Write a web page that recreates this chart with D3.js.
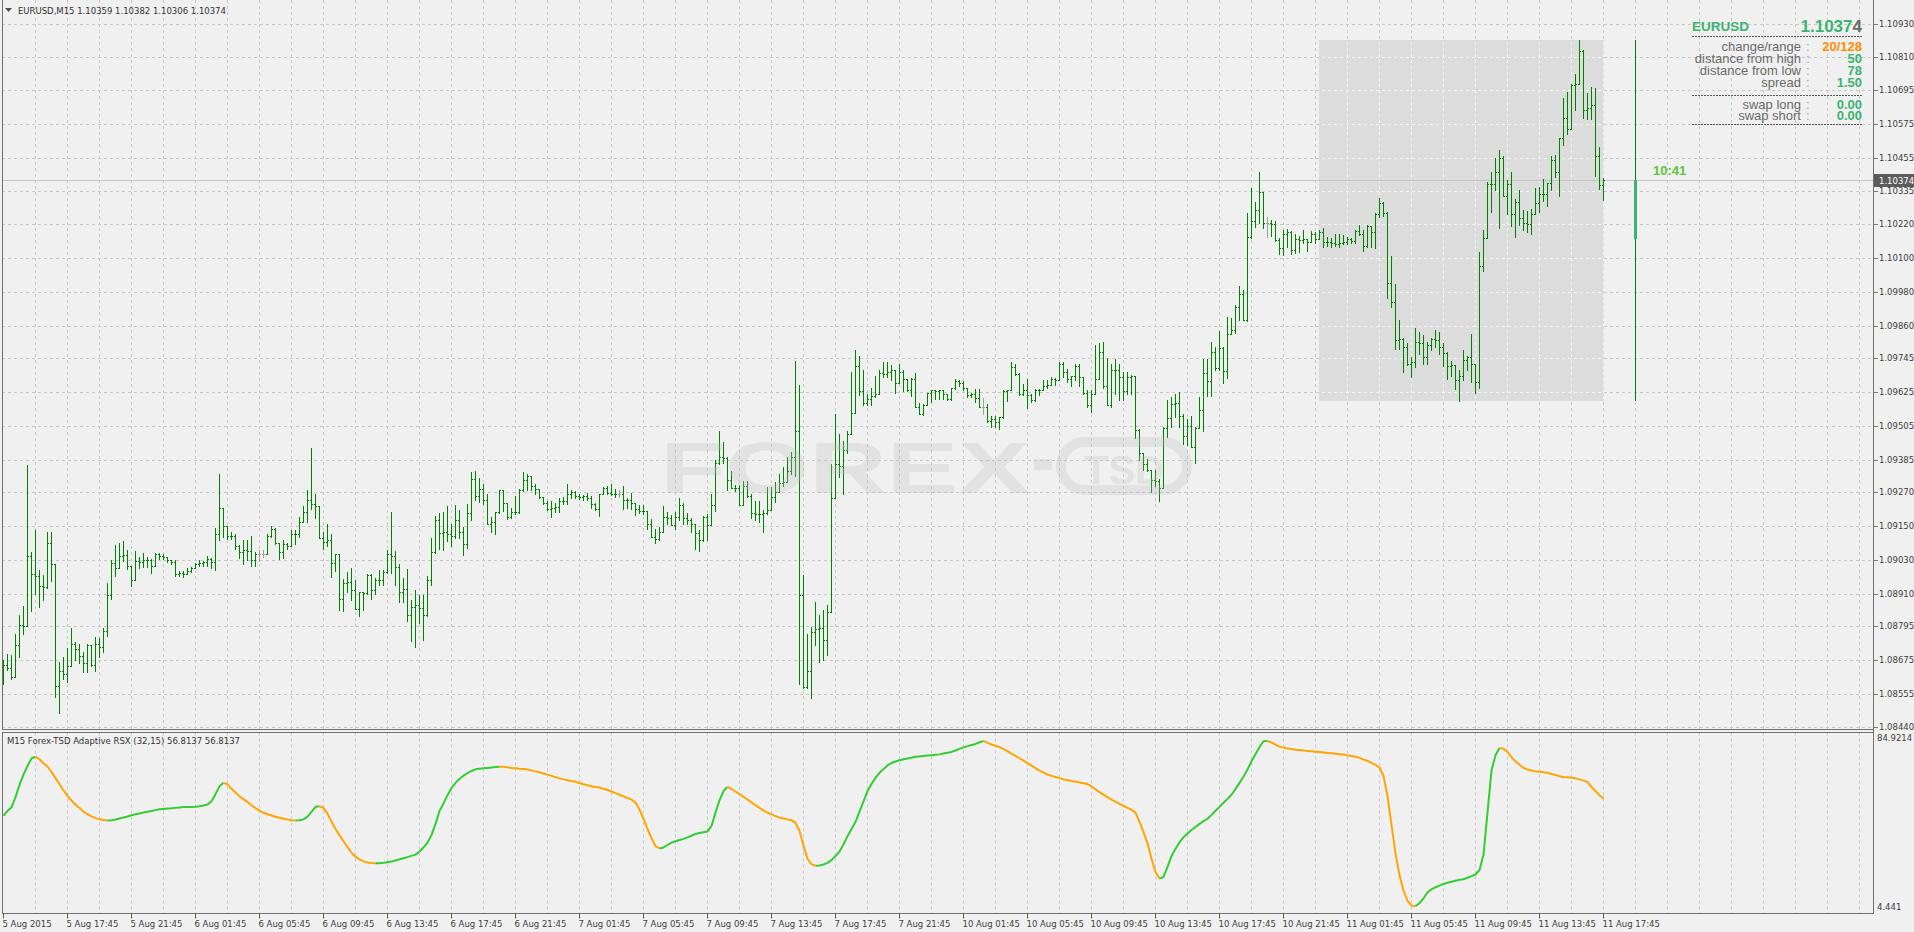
<!DOCTYPE html>
<html>
<head>
<meta charset="utf-8">
<title>EURUSD,M15</title>
<script src="https://cdn.jsdelivr.net/npm/d3@7/dist/d3.min.js"></script>
<style>
  html, body { margin: 0; padding: 0; background: #f0f0f0; overflow: hidden; }
  svg { display: block; }
  text { font-family: "Liberation Sans", Arial, sans-serif; }
  text.mt { font-family: "DejaVu Sans", sans-serif; font-size: 8.5px; }
</style>
</head>
<body>
<div id="chart"></div>
<script>
// Width and height of the terminal window
const width = 1914;
const height = 932;

const SYMBOL = 'EURUSD';
const PERIOD = 'M15';
const TIMER = '10:41';
const BAR_COLOR = '#008000';
const DOJI_COLOR = '#a0a0a0';
const GRID = '#c8c8c8';
const BORDER = '#707070';
const AXIS_TEXT = '#404040';

// one label every 16 bars (4 hours of M15)
const timeLabels = ['5 Aug 2015', '5 Aug 17:45', '5 Aug 21:45', '6 Aug 01:45', '6 Aug 05:45', '6 Aug 09:45',
  '6 Aug 13:45', '6 Aug 17:45', '6 Aug 21:45', '7 Aug 01:45', '7 Aug 05:45', '7 Aug 09:45', '7 Aug 13:45',
  '7 Aug 17:45', '7 Aug 21:45', '10 Aug 01:45', '10 Aug 05:45', '10 Aug 09:45', '10 Aug 13:45', '10 Aug 17:45',
  '10 Aug 21:45', '11 Aug 01:45', '11 Aug 05:45', '11 Aug 09:45', '11 Aug 13:45', '11 Aug 17:45'];

const priceTicks = [1.10930, 1.10810, 1.10695, 1.10575, 1.10455, 1.10335, 1.10220, 1.10100, 1.09980, 1.09860,
  1.09745, 1.09625, 1.09505, 1.09385, 1.09270, 1.09150, 1.09030, 1.08910, 1.08795, 1.08675, 1.08555, 1.08440];

// M15 bars, oldest first. open of a bar = close of the bar before
const firstOpen = 1.08650;
const highs = [
  1.08674,1.08698,1.08695,1.08769,1.08834,1.08866,1.09365,1.09057,1.09137,1.08995,
  1.08975,1.09128,1.09128,1.09014,1.08667,1.08686,1.08717,1.08788,1.08738,1.08733,
  1.08703,1.08731,1.08729,1.08757,1.08755,1.08788,1.08948,1.09028,1.09083,1.09090,
  1.09097,1.09064,1.09010,1.09061,1.09040,1.09054,1.09040,1.09033,1.09054,1.09054,
  1.09050,1.09040,1.09031,1.09031,1.08991,1.08991,1.09000,1.09005,1.09019,1.09031,
  1.09026,1.09045,1.09036,1.09142,1.09333,1.09213,1.09151,1.09130,1.09123,1.09083,
  1.09099,1.09099,1.09116,1.09059,1.09066,1.09066,1.09123,1.09151,1.09142,1.09090,
  1.09102,1.09090,1.09135,1.09135,1.09182,1.09222,1.09276,1.09425,1.09262,1.09220,
  1.09128,1.09156,1.09121,1.09050,1.09050,1.08962,1.08986,1.09002,1.08960,1.08915,
  1.08917,1.08979,1.08979,1.08967,1.08995,1.08995,1.09064,1.09198,1.09061,1.09014,
  1.08965,1.08998,1.08889,1.08925,1.08906,1.08905,1.08972,1.09106,1.09185,1.09197,
  1.09199,1.09220,1.09156,1.09223,1.09206,1.09147,1.09227,1.09341,1.09345,1.09319,
  1.09300,1.09263,1.09182,1.09201,1.09279,1.09277,1.09232,1.09213,1.09258,1.09282,
  1.09341,1.09336,1.09326,1.09300,1.09282,1.09253,1.09239,1.09239,1.09230,1.09251,
  1.09253,1.09298,1.09277,1.09274,1.09265,1.09260,1.09267,1.09256,1.09230,1.09263,
  1.09289,1.09291,1.09298,1.09282,1.09279,1.09291,1.09249,1.09267,1.09232,1.09225,
  1.09223,1.09204,1.09175,1.09140,1.09145,1.09220,1.09199,1.09189,1.09199,1.09251,
  1.09230,1.09197,1.09180,1.09159,1.09135,1.09185,1.09194,1.09263,1.09383,1.09485,
  1.09447,1.09395,1.09345,1.09296,1.09296,1.09308,1.09308,1.09265,1.09237,1.09237,
  1.09206,1.09289,1.09289,1.09305,1.09336,1.09359,1.09395,1.09411,1.09733,1.09648,
  1.08975,1.08767,1.08793,1.08880,1.08835,1.08851,1.08869,1.09371,1.09546,1.09475,
  1.09451,1.09487,1.09695,1.09773,1.09751,1.09704,1.09619,1.09638,1.09683,1.09702,
  1.09732,1.09730,1.09721,1.09704,1.09725,1.09702,1.09671,1.09673,1.09692,1.09586,
  1.09584,1.09621,1.09633,1.09633,1.09633,1.09633,1.09619,1.09640,1.09671,1.09666,
  1.09664,1.09640,1.09621,1.09636,1.09636,1.09605,1.09584,1.09541,1.09541,1.09536,
  1.09631,1.09633,1.09732,1.09725,1.09692,1.09652,1.09671,1.09617,1.09636,1.09636,
  1.09666,1.09666,1.09678,1.09673,1.09730,1.09730,1.09706,1.09683,1.09725,1.09725,
  1.09678,1.09633,1.09633,1.09791,1.09799,1.09801,1.09744,1.09725,1.09742,1.09725,
  1.09697,1.09697,1.09685,1.09680,1.09492,1.09407,1.09388,1.09350,1.09348,1.09317,
  1.09501,1.09598,1.09607,1.09619,1.09624,1.09546,1.09529,1.09541,1.09501,1.09607,
  1.09743,1.09742,1.09803,1.09784,1.09841,1.09784,1.09891,1.09886,1.09933,1.09999,
  1.09985,1.10259,1.10346,1.10297,1.10403,1.10332,1.10245,1.10233,1.10231,1.10172,
  1.10200,1.10202,1.10195,1.10183,1.10179,1.10197,1.10166,1.10195,1.10192,1.10197,
  1.10204,1.10174,1.10171,1.10183,1.10185,1.10181,1.10174,1.10171,1.10197,1.10218,
  1.10197,1.10218,1.10214,1.10259,1.10311,1.10296,1.10263,1.10105,1.10008,1.09881,
  1.09817,1.09798,1.09748,1.09850,1.09838,1.09826,1.09803,1.09817,1.09843,1.09836,
  1.09798,1.09767,1.09734,1.09720,1.09704,1.09772,1.09751,1.09831,1.09725,1.10119,
  1.10200,1.10367,1.10403,1.10452,1.10481,1.10459,1.10377,1.10403,1.10308,1.10341,
  1.10270,1.10266,1.10273,1.10346,1.10351,1.10379,1.10365,1.10459,1.10466,1.10525,
  1.10665,1.10686,1.10714,1.10752,1.10870,1.10835,1.10684,1.10705,1.10703,1.10492,
  1.10382
];
const lows = [
  1.08592,1.08641,1.08608,1.08616,1.08686,1.08766,1.08797,1.08849,1.08910,1.08865,
  1.08889,1.08932,1.08954,1.08544,1.08488,1.08609,1.08596,1.08653,1.08674,1.08665,
  1.08632,1.08632,1.08653,1.08636,1.08686,1.08703,1.08759,1.08891,1.08972,1.09026,
  1.09026,1.08998,1.08936,1.08958,1.09002,1.09005,1.09005,1.08984,1.09010,1.09033,
  1.09033,1.09024,1.09014,1.08974,1.08972,1.08969,1.08981,1.08988,1.09002,1.09007,
  1.09010,1.09010,1.09002,1.08993,1.09099,1.09111,1.09104,1.09104,1.09069,1.09038,
  1.09014,1.09028,1.09007,1.09010,1.09026,1.09040,1.09050,1.09111,1.09085,1.09033,
  1.09036,1.09069,1.09080,1.09087,1.09111,1.09163,1.09163,1.09210,1.09180,1.09106,
  1.09069,1.09078,1.08969,1.08991,1.08851,1.08849,1.08915,1.08887,1.08856,1.08832,
  1.08851,1.08910,1.08891,1.08910,1.08941,1.08941,1.08984,1.08984,1.08941,1.08882,
  1.08882,1.08814,1.08743,1.08721,1.08806,1.08748,1.08831,1.08940,1.09055,1.09069,
  1.09064,1.09097,1.09078,1.09109,1.09109,1.09048,1.09071,1.09171,1.09241,1.09234,
  1.09227,1.09156,1.09128,1.09123,1.09197,1.09204,1.09175,1.09178,1.09194,1.09197,
  1.09274,1.09279,1.09277,1.09263,1.09251,1.09227,1.09206,1.09182,1.09201,1.09201,
  1.09227,1.09227,1.09249,1.09249,1.09246,1.09241,1.09244,1.09215,1.09206,1.09185,
  1.09263,1.09265,1.09260,1.09253,1.09253,1.09211,1.09215,1.09211,1.09189,1.09197,
  1.09194,1.09140,1.09112,1.09090,1.09100,1.09128,1.09156,1.09152,1.09138,1.09173,
  1.09156,1.09156,1.09128,1.09069,1.09060,1.09097,1.09102,1.09156,1.09204,1.09369,
  1.09374,1.09277,1.09284,1.09274,1.09223,1.09223,1.09253,1.09178,1.09171,1.09163,
  1.09130,1.09194,1.09237,1.09234,1.09277,1.09293,1.09324,1.09334,1.09329,1.08590,
  1.08576,1.08576,1.08542,1.08729,1.08670,1.08674,1.08692,1.08844,1.09263,1.09324,
  1.09263,1.09409,1.09475,1.09551,1.09614,1.09577,1.09577,1.09577,1.09607,1.09655,
  1.09678,1.09678,1.09669,1.09621,1.09655,1.09629,1.09629,1.09610,1.09572,1.09546,
  1.09544,1.09577,1.09588,1.09600,1.09600,1.09600,1.09598,1.09595,1.09636,1.09647,
  1.09633,1.09607,1.09607,1.09588,1.09572,1.09546,1.09520,1.09501,1.09501,1.09492,
  1.09534,1.09593,1.09631,1.09685,1.09614,1.09614,1.09569,1.09588,1.09593,1.09614,
  1.09631,1.09640,1.09650,1.09650,1.09666,1.09678,1.09659,1.09647,1.09666,1.09647,
  1.09619,1.09572,1.09555,1.09619,1.09671,1.09640,1.09579,1.09572,1.09619,1.09595,
  1.09595,1.09619,1.09619,1.09463,1.09383,1.09350,1.09345,1.09270,1.09293,1.09239,
  1.09284,1.09466,1.09501,1.09536,1.09501,1.09442,1.09437,1.09430,1.09373,1.09499,
  1.09487,1.09612,1.09612,1.09702,1.09702,1.09657,1.09676,1.09829,1.09832,1.09881,
  1.09879,1.09876,1.10172,1.10209,1.10224,1.10205,1.10174,1.10176,1.10160,1.10113,
  1.10110,1.10139,1.10115,1.10117,1.10120,1.10152,1.10124,1.10157,1.10152,1.10166,
  1.10138,1.10143,1.10140,1.10143,1.10138,1.10148,1.10150,1.10152,1.10152,1.10181,
  1.10124,1.10138,1.10138,1.10136,1.10244,1.10249,1.09956,1.09926,1.09777,1.09777,
  1.09697,1.09720,1.09678,1.09713,1.09760,1.09725,1.09725,1.09772,1.09784,1.09760,
  1.09718,1.09671,1.09680,1.09635,1.09593,1.09666,1.09701,1.09661,1.09621,1.09638,
  1.10053,1.10171,1.10261,1.10341,1.10207,1.10318,1.10254,1.10211,1.10174,1.10216,
  1.10197,1.10192,1.10185,1.10254,1.10261,1.10301,1.10285,1.10339,1.10386,1.10320,
  1.10499,1.10540,1.10556,1.10622,1.10717,1.10594,1.10592,1.10592,1.10391,1.10344,
  1.10306
];
const closes = [
  1.08659,1.08648,1.08616,1.08730,1.08801,1.08797,1.09043,1.08981,1.08974,1.08939,
  1.08934,1.09091,1.09014,1.08582,1.08638,1.08627,1.08655,1.08733,1.08716,1.08691,
  1.08665,1.08729,1.08659,1.08731,1.08721,1.08780,1.08907,1.09020,1.09002,1.09043,
  1.09047,1.09007,1.08960,1.09025,1.09023,1.09028,1.09031,1.09010,1.09050,1.09043,
  1.09040,1.09028,1.09021,1.08981,1.08984,1.08979,1.08991,1.09002,1.09014,1.09019,
  1.09021,1.09033,1.09021,1.09121,1.09213,1.09151,1.09113,1.09115,1.09080,1.09059,
  1.09064,1.09062,1.09028,1.09052,1.09052,1.09052,1.09113,1.09139,1.09090,1.09059,
  1.09085,1.09080,1.09121,1.09123,1.09165,1.09201,1.09243,1.09227,1.09220,1.09106,
  1.09095,1.09099,1.09019,1.09050,1.08893,1.08950,1.08953,1.08925,1.08856,1.08915,
  1.08913,1.08976,1.08922,1.08958,1.08960,1.08986,1.09050,1.09043,1.09005,1.08917,
  1.08927,1.08835,1.08863,1.08870,1.08860,1.08834,1.08960,1.09058,1.09171,1.09126,
  1.09128,1.09123,1.09116,1.09173,1.09130,1.09088,1.09197,1.09315,1.09256,1.09282,
  1.09241,1.09156,1.09163,1.09201,1.09277,1.09230,1.09182,1.09201,1.09199,1.09277,
  1.09312,1.09326,1.09291,1.09282,1.09253,1.09232,1.09211,1.09213,1.09218,1.09239,
  1.09237,1.09263,1.09272,1.09258,1.09253,1.09255,1.09251,1.09227,1.09211,1.09263,
  1.09284,1.09267,1.09265,1.09263,1.09263,1.09244,1.09241,1.09232,1.09211,1.09204,
  1.09202,1.09159,1.09112,1.09104,1.09128,1.09182,1.09180,1.09154,1.09182,1.09225,
  1.09180,1.09173,1.09156,1.09126,1.09102,1.09182,1.09152,1.09223,1.09374,1.09393,
  1.09391,1.09312,1.09286,1.09284,1.09223,1.09291,1.09258,1.09197,1.09194,1.09192,
  1.09195,1.09206,1.09253,1.09270,1.09303,1.09305,1.09345,1.09393,1.09485,1.08904,
  1.08580,1.08637,1.08776,1.08786,1.08788,1.08745,1.08844,1.09251,1.09371,1.09362,
  1.09418,1.09475,1.09551,1.09716,1.09629,1.09586,1.09600,1.09610,1.09617,1.09692,
  1.09690,1.09694,1.09702,1.09655,1.09697,1.09671,1.09631,1.09671,1.09572,1.09548,
  1.09577,1.09621,1.09631,1.09629,1.09632,1.09619,1.09600,1.09640,1.09664,1.09655,
  1.09640,1.09614,1.09616,1.09603,1.09572,1.09572,1.09522,1.09529,1.09520,1.09536,
  1.09629,1.09631,1.09714,1.09690,1.09617,1.09633,1.09615,1.09595,1.09633,1.09631,
  1.09647,1.09650,1.09671,1.09669,1.09725,1.09695,1.09671,1.09683,1.09718,1.09678,
  1.09621,1.09579,1.09619,1.09671,1.09765,1.09647,1.09579,1.09704,1.09702,1.09678,
  1.09629,1.09678,1.09680,1.09489,1.09407,1.09369,1.09350,1.09312,1.09310,1.09286,
  1.09499,1.09532,1.09584,1.09586,1.09539,1.09468,1.09503,1.09430,1.09499,1.09560,
  1.09692,1.09664,1.09765,1.09711,1.09780,1.09699,1.09829,1.09843,1.09926,1.09973,
  1.09881,1.10174,1.10231,1.10271,1.10332,1.10224,1.10224,1.10219,1.10162,1.10134,
  1.10183,1.10193,1.10127,1.10165,1.10163,1.10166,1.10157,1.10183,1.10166,1.10192,
  1.10157,1.10155,1.10152,1.10150,1.10153,1.10157,1.10166,1.10158,1.10195,1.10185,
  1.10143,1.10214,1.10192,1.10256,1.10294,1.10259,1.10011,1.09944,1.09810,1.09812,
  1.09784,1.09725,1.09730,1.09803,1.09800,1.09748,1.09791,1.09812,1.09810,1.09784,
  1.09763,1.09718,1.09720,1.09666,1.09680,1.09737,1.09748,1.09723,1.09659,1.10070,
  1.10171,1.10360,1.10362,1.10403,1.10455,1.10320,1.10362,1.10256,1.10296,1.10240,
  1.10225,1.10221,1.10256,1.10294,1.10327,1.10325,1.10365,1.10445,1.10405,1.10525,
  1.10596,1.10556,1.10712,1.10714,1.10832,1.10622,1.10629,1.10641,1.10462,1.10359,
  1.10374
];

// Forex-TSD Adaptive RSX (32,15), one value per bar
const rsx = [
  48.5,50.8,52.6,57.5,63.5,68.5,72.8,76.4,77.3,76.0,
  74.0,72.5,69.8,66.8,63.8,60.8,58.2,55.9,53.8,52.2,
  50.5,49.2,48.2,47.3,46.7,46.4,46.2,46.3,46.6,47.1,
  47.6,48.1,48.7,49.2,49.6,50.0,50.4,50.8,51.2,51.6,
  51.8,52.0,52.1,52.3,52.5,52.7,52.7,52.7,52.8,53.1,
  53.5,53.9,55.5,59.0,62.8,64.5,63.8,61.6,59.8,58.0,
  56.6,55.2,53.6,52.2,51.0,49.9,49.2,48.6,48.0,47.5,
  47.0,46.6,46.3,46.2,46.3,46.7,48.0,50.4,52.8,53.1,
  52.3,49.5,45.5,42.0,39.0,36.0,33.2,30.4,28.5,27.2,
  26.2,25.7,25.4,25.3,25.3,25.5,25.8,26.1,26.6,27.2,
  27.7,28.3,28.9,29.5,31.0,33.0,35.4,39.0,44.5,50.8,
  54.5,58.5,62.0,64.5,66.5,68.0,69.3,70.3,71.1,71.4,
  71.6,71.8,72.0,72.2,72.4,72.3,72.1,71.8,71.6,71.4,
  71.3,71.0,70.6,70.1,69.7,69.1,68.5,67.9,67.3,66.7,
  66.2,65.8,65.4,65.0,64.4,63.8,63.3,62.9,62.5,62.2,
  61.6,61.0,60.3,59.5,58.7,57.9,57.1,56.3,55.0,51.5,
  47.0,42.0,37.5,33.6,32.5,33.0,34.2,35.4,36.0,36.6,
  37.2,37.9,38.7,39.6,40.0,40.4,40.8,43.5,50.0,56.0,
  60.5,62.5,61.5,60.3,59.0,57.7,56.4,55.0,53.6,52.3,
  51.0,50.0,49.1,48.3,47.6,47.1,46.7,46.3,45.0,41.0,
  34.0,27.5,24.8,24.1,24.2,24.7,25.5,26.8,28.8,31.0,
  34.5,38.5,42.0,45.5,50.5,55.5,60.5,64.0,67.0,69.4,
  71.2,73.0,74.2,74.9,75.5,76.0,76.4,76.8,77.2,77.4,
  77.6,77.8,78.0,78.2,78.4,78.8,79.2,79.6,80.3,81.1,
  81.8,82.4,83.0,83.5,84.3,84.9214,84.0,83.2,82.6,82.0,
  81.0,80.0,78.8,77.7,76.5,75.3,74.1,72.9,71.7,70.5,
  69.5,68.5,67.9,67.4,66.8,66.2,65.8,65.4,65.1,64.7,
  64.3,63.9,62.8,61.3,60.0,58.8,57.5,56.3,55.3,54.2,
  53.3,52.3,51.4,50.0,45.5,40.5,35.0,27.5,21.0,17.8,
  18.6,23.5,28.8,32.3,35.5,38.0,39.8,41.5,43.0,44.5,
  45.8,47.0,48.9,50.9,52.8,54.8,56.7,58.7,61.5,64.5,
  67.5,71.0,75.0,78.5,82.0,84.8,84.9,84.2,83.1,82.2,
  81.7,81.3,81.0,80.7,80.5,80.3,80.1,79.9,79.7,79.5,
  79.3,79.1,78.9,78.7,78.5,78.3,77.9,77.6,77.2,76.7,
  75.9,75.2,74.3,73.3,72.0,68.0,58.0,44.0,30.0,19.5,
  12.0,7.0,4.6,4.441,5.8,8.2,11.0,12.6,13.6,14.4,
  15.2,15.8,16.3,16.8,17.2,17.5,18.2,19.0,19.8,22.0,
  29.5,50.0,70.5,78.0,81.5,81.2,79.6,77.0,75.0,73.3,
  71.8,71.0,70.5,70.1,69.9,69.7,69.4,68.8,68.3,67.7,
  67.4,67.2,67.0,66.7,66.2,65.6,65.0,62.5,60.5,58.5,
  56.8137
];

// info panel
const infoLabels = ['change/range', 'distance from high', 'distance from low', 'spread'];
const infoValues = ['20/128', '50', '78', '1.50'];
const swapLabels = ['swap long', 'swap short'];
const swapValues = ['0.00', '0.00'];

const DAY_START = 329;   // first bar of 11 Aug
const RANGE_BAR = 408;   // where the daily range bar is drawn

const bars = closes.map((c, i) => ({
  i, o: i === 0 ? firstOpen : closes[i - 1], h: highs[i], l: lows[i], c
}));
const last = bars[bars.length - 1];

// layout
const PLOT_L = 2, PLOT_R = 1873;
const MAIN_B = 729.5, IND_T = 732.5, IND_B = 913.5;

const svg = d3.select('#chart').append('svg')
  .attr('width', width).attr('height', height);

svg.append('rect').attr('width', width).attr('height', height).attr('fill', '#f0f0f0');

const x = d3.scaleLinear().domain([0, 400]).range([3.5, 1603.5]);
const y = d3.scaleLinear().domain([1.08440, 1.10930]).range([726.5, 23.5]);
const yr = d3.scaleLinear().domain(d3.extent(rsx)).range([906, 741]);

const gridX = d3.range(8, 470, 8).map(x).filter(v => v < PLOT_R);

// ---------- main panel ----------
const main = svg.append('g');
const drawGrid = (g, color) => {
  g.selectAll('line.v').data(gridX).enter().append('line')
    .attr('class', 'v').attr('x1', d => d).attr('x2', d => d)
    .attr('y1', 0).attr('y2', MAIN_B)
    .attr('stroke', color).attr('stroke-dasharray', '3,3');
  g.selectAll('line.h').data(priceTicks).enter().append('line')
    .attr('class', 'h').attr('x1', PLOT_L).attr('x2', PLOT_R)
    .attr('y1', d => Math.round(y(d)) + 0.5).attr('y2', d => Math.round(y(d)) + 0.5)
    .attr('stroke', color).attr('stroke-dasharray', '3,3');
};
drawGrid(main.append('g'), GRID);

// today's range box
const dayBars = bars.slice(DAY_START);
const dayHigh = d3.max(dayBars, d => d.h);
const dayLow = d3.min(dayBars, d => d.l);
const dayOpen = dayBars[0].o;
const boxX0 = Math.round(x(DAY_START)) - 1, boxX1 = Math.round(x(bars.length - 1));
svg.append('clipPath').attr('id', 'boxClip').append('rect')
  .attr('x', boxX0).attr('y', Math.round(y(dayHigh)))
  .attr('width', boxX1 - boxX0).attr('height', Math.round(y(dayLow)) - Math.round(y(dayHigh)));
main.append('rect')
  .attr('x', boxX0).attr('y', Math.round(y(dayHigh)))
  .attr('width', boxX1 - boxX0).attr('height', Math.round(y(dayLow)) - Math.round(y(dayHigh)))
  .attr('fill', '#dcdcdc');
drawGrid(main.append('g').attr('clip-path', 'url(#boxClip)'), '#f4f4f4');

// bid line
main.append('line')
  .attr('x1', PLOT_L).attr('x2', PLOT_R)
  .attr('y1', Math.round(y(last.c)) + 0.5).attr('y2', Math.round(y(last.c)) + 0.5)
  .attr('stroke', '#c4c4c4');

// OHLC bars
const barG = main.append('g').attr('shape-rendering', 'crispEdges');
const barSel = barG.selectAll('g').data(bars).enter().append('g')
  .attr('fill', d => d.o === d.c ? DOJI_COLOR : BAR_COLOR);
barSel.append('rect')
  .attr('x', d => Math.round(x(d.i) - 0.5))
  .attr('y', d => Math.round(y(Math.max(d.h, d.o, d.c))))
  .attr('width', 1)
  .attr('height', d => Math.round(y(Math.min(d.l, d.o, d.c))) - Math.round(y(Math.max(d.h, d.o, d.c))) + 1);
barSel.append('rect')
  .attr('x', d => Math.round(x(d.i) - 0.5) - 1)
  .attr('y', d => Math.round(y(d.o))).attr('width', 1).attr('height', 1);
barSel.append('rect')
  .attr('x', d => Math.round(x(d.i) - 0.5) + 1)
  .attr('y', d => Math.round(y(d.c))).attr('width', 1).attr('height', 1);

// daily range bar with the open->current body
const rx = Math.round(x(RANGE_BAR) - 0.5);
main.append('rect').attr('x', rx).attr('y', Math.round(y(dayHigh)))
  .attr('width', 1).attr('height', Math.round(y(dayLow)) - Math.round(y(dayHigh)))
  .attr('fill', '#0a780a');
main.append('rect').attr('x', rx - 1).attr('y', Math.round(y(last.c)))
  .attr('width', 3).attr('height', Math.round(y(dayOpen)) - Math.round(y(last.c)))
  .attr('fill', '#3cb371');
main.append('text').attr('x', rx + 18).attr('y', y(last.c) - 10)
  .attr('dominant-baseline', 'central')
  .attr('font-size', 13).attr('font-weight', 'bold').attr('fill', '#5cc63a')
  .text(TIMER);

// watermark
const wm = main.append('g').attr('opacity', 0.27).attr('fill', '#bdbdbd');
wm.append('text').attr('x', 660).attr('y', 493)
  .attr('font-family', 'DejaVu Sans').attr('font-weight', 'bold').attr('font-size', 73)
  .attr('textLength', 370).attr('lengthAdjust', 'spacingAndGlyphs').text('FOREX');
wm.append('rect').attr('x', 1034).attr('y', 459).attr('width', 18).attr('height', 11);
wm.append('rect').attr('x', 1061).attr('y', 442).attr('width', 126).attr('height', 48).attr('rx', 24)
  .attr('fill', 'none').attr('stroke', '#bdbdbd').attr('stroke-width', 10);
wm.append('text').attr('x', 1124).attr('y', 484).attr('text-anchor', 'middle')
  .attr('font-family', 'DejaVu Sans').attr('font-weight', 'bold').attr('font-size', 40)
  .text('TSD');

// header
main.append('path').attr('d', 'M5,8 L12,8 L8.5,12 Z').attr('fill', '#505050');
main.append('text').attr('class', 'mt').attr('x', 18).attr('y', 11).attr('dominant-baseline', 'central')
  .attr('fill', '#333')
  .text(`${SYMBOL},${PERIOD}  ${[last.o, last.h, last.l, last.c].map(d3.format('.5f')).join(' ')}`);

// info panel
const info = main.append('g');
const INFO_L = 1692, INFO_R = 1862, INFO_COLON = 1806;
info.append('text').attr('x', INFO_L).attr('y', 26).attr('dominant-baseline', 'central')
  .attr('font-size', 13.5).attr('font-weight', 'bold').attr('fill', '#3cb371').text(SYMBOL);
const priceStr = d3.format('.5f')(last.c);
const bigPrice = info.append('text').attr('x', INFO_R).attr('y', 26).attr('dominant-baseline', 'central')
  .attr('text-anchor', 'end').attr('font-size', 17).attr('font-weight', 'bold');
bigPrice.append('tspan').attr('fill', '#3cb371').text(priceStr.slice(0, -1));
bigPrice.append('tspan').attr('fill', '#607060').text(priceStr.slice(-1));
[36.5, 95.5, 124.5].forEach(yy => {
  info.append('line').attr('x1', INFO_L).attr('x2', INFO_R).attr('y1', yy).attr('y2', yy)
    .attr('stroke', '#555').attr('stroke-dasharray', '2,1');
});
const rows = infoLabels.map((l, k) => ({ l, v: infoValues[k], yy: 46 + k * 12, orange: k === 0 }))
  .concat(swapLabels.map((l, k) => ({ l, v: swapValues[k], yy: 104 + k * 11.5, orange: false })));
rows.forEach(r => {
  info.append('text').attr('x', INFO_COLON - 5).attr('y', r.yy).attr('dominant-baseline', 'central')
    .attr('text-anchor', 'end').attr('font-size', 13).attr('fill', '#6a6a6a').text(r.l);
  info.append('text').attr('x', INFO_COLON).attr('y', r.yy).attr('dominant-baseline', 'central')
    .attr('font-size', 13).attr('fill', '#a0a0a0').text(':');
  info.append('text').attr('x', INFO_R).attr('y', r.yy).attr('dominant-baseline', 'central')
    .attr('text-anchor', 'end').attr('font-size', 13).attr('font-weight', 'bold')
    .attr('fill', r.orange ? '#ff8c00' : '#3cb371').text(r.v);
});

// ---------- indicator panel ----------
const ind = svg.append('g');
ind.selectAll('line').data(gridX).enter().append('line')
  .attr('x1', d => d).attr('x2', d => d).attr('y1', IND_T).attr('y2', IND_B)
  .attr('stroke', GRID).attr('stroke-dasharray', '3,3');

// colour by slope: green up, orange down
const runs = [];
rsx.forEach((v, i) => {
  if (i === 0) return;
  const col = v >= rsx[i - 1] ? '#32cd32' : '#ffa500';
  const run = runs[runs.length - 1];
  if (run && run.col === col) run.pts.push(i);
  else runs.push({ col, pts: [i - 1, i] });
});
const rsxLine = d3.line().x(i => x(i)).y(i => yr(rsx[i]));
ind.selectAll('path.rsx').data(runs).enter().append('path')
  .attr('class', 'rsx').attr('d', d => rsxLine(d.pts))
  .attr('fill', 'none').attr('stroke', d => d.col).attr('stroke-width', 2)
  .attr('stroke-linejoin', 'round');

const fmtRsx = v => String(+v.toFixed(4));
ind.append('text').attr('class', 'mt').attr('x', 7).attr('y', 741).attr('dominant-baseline', 'central')
  .attr('fill', '#333')
  .text(`${PERIOD} Forex-TSD Adaptive RSX (32,15) ${rsx[rsx.length - 1].toFixed(4)} ${rsx[rsx.length - 1].toFixed(4)}`);

// ---------- frames and axes ----------
const frame = svg.append('g').attr('stroke', BORDER).attr('shape-rendering', 'crispEdges');
frame.append('line').attr('x1', PLOT_L + 0.5).attr('x2', PLOT_L + 0.5).attr('y1', 0).attr('y2', MAIN_B);
frame.append('line').attr('x1', PLOT_L + 0.5).attr('x2', PLOT_L + 0.5).attr('y1', IND_T).attr('y2', IND_B);
frame.append('line').attr('x1', PLOT_R + 0.5).attr('x2', PLOT_R + 0.5).attr('y1', 0).attr('y2', IND_B);
frame.append('line').attr('x1', PLOT_L).attr('x2', PLOT_R).attr('y1', MAIN_B).attr('y2', MAIN_B);
frame.append('line').attr('x1', PLOT_L).attr('x2', PLOT_R).attr('y1', IND_T).attr('y2', IND_T);
frame.append('line').attr('x1', PLOT_L).attr('x2', PLOT_R).attr('y1', IND_B).attr('y2', IND_B);

// price axis
const pAxis = svg.append('g');
pAxis.selectAll('line').data(priceTicks).enter().append('line')
  .attr('x1', PLOT_R + 1).attr('x2', PLOT_R + 5)
  .attr('y1', d => Math.round(y(d)) + 0.5).attr('y2', d => Math.round(y(d)) + 0.5)
  .attr('stroke', '#777');
pAxis.selectAll('text').data(priceTicks).enter().append('text')
  .attr('class', 'mt').attr('x', PLOT_R + 6).attr('y', d => y(d)).attr('dominant-baseline', 'central')
  .attr('fill', AXIS_TEXT).text(d3.format('.5f'));
pAxis.append('rect').attr('x', PLOT_R + 1).attr('y', Math.round(y(last.c)) - 6)
  .attr('width', width - PLOT_R - 1).attr('height', 13).attr('fill', '#5c5c5c');
pAxis.append('text').attr('class', 'mt').attr('x', PLOT_R + 6).attr('y', y(last.c) + 0.5)
  .attr('dominant-baseline', 'central').attr('fill', '#fff').text(d3.format('.5f')(last.c));

// indicator scale
const [rMin, rMax] = d3.extent(rsx);
svg.append('text').attr('class', 'mt').attr('x', PLOT_R + 4).attr('y', yr(rMax) - 3)
  .attr('dominant-baseline', 'central').attr('fill', AXIS_TEXT).text(fmtRsx(rMax));
svg.append('text').attr('class', 'mt').attr('x', PLOT_R + 4).attr('y', yr(rMin) + 1)
  .attr('dominant-baseline', 'central').attr('fill', AXIS_TEXT).text(fmtRsx(rMin));

// time axis
const tAxis = svg.append('g');
const timeTicks = timeLabels.map((t, k) => ({ t, i: k * 16 }));
tAxis.selectAll('line').data(timeTicks).enter().append('line')
  .attr('x1', d => x(d.i)).attr('x2', d => x(d.i))
  .attr('y1', IND_B).attr('y2', IND_B + 5).attr('stroke', '#555');
tAxis.selectAll('text').data(timeTicks).enter().append('text')
  .attr('class', 'mt').attr('x', d => x(d.i) - 1).attr('y', 924).attr('dominant-baseline', 'central')
  .attr('fill', AXIS_TEXT).text(d => d.t);
</script>
</body>
</html>
